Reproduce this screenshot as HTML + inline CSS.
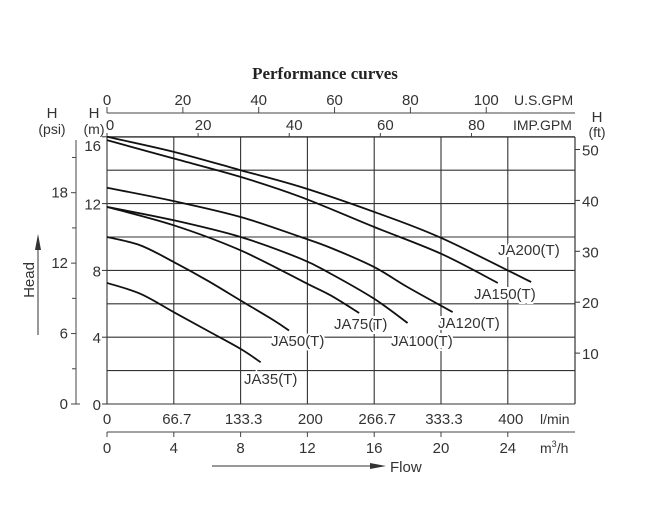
<!DOCTYPE html>
<html><head><meta charset="utf-8"><style>
body{margin:0;background:#fff;}
svg{display:block;font-family:"Liberation Sans",Arial,sans-serif;}
</style></head><body>
<svg id="chart" width="658" height="513" viewBox="0 0 658 513" xmlns="http://www.w3.org/2000/svg">
<text x="325" y="79" text-anchor="middle" font-family="Liberation Serif,serif" font-weight="bold" font-size="17" fill="#222">Performance curves</text>
<g id="grid"></g>
<g id="axes"></g>
<g id="curves"></g>
</svg>
<script>
const xTicksLmin = ["0","66.7","133.3","200","266.7","333.3","400"];
const xTicksM3h = [0,4,8,12,16,20,24];
const yTicksM = [0,4,8,12,16];
const yTicksPsi = [0,6,12,18];
const yTicksFt = [10,20,30,40,50];
const usGpm = [0,20,40,60,80,100];
const impGpm = [0,20,40,60,80];
const seriesNames = ["JA35(T)","JA50(T)","JA75(T)","JA100(T)","JA120(T)","JA150(T)","JA200(T)"];
const ja35 = [[0,7.25],[2,6.6],[4,5.5],[6,4.4],[8,3.3],[9.2,2.5]];
const ja50 = [[0,10],[2,9.5],[4,8.5],[6,7.4],[8,6.2],[10,5],[10.9,4.4]];
const ja75 = [[0,11.8],[4,10.7],[8,9.2],[12,7.2],[13.4,6.5],[15.1,5.45]];
const ja100 = [[0,11.8],[4,11.0],[8,10.0],[11.6,8.7],[13.4,7.8],[16,6.3],[18,4.85]];
const ja120 = [[0,12.95],[4,12.15],[8,11.2],[11.6,10],[13.4,9.35],[16,8.2],[18,7.0],[20.7,5.5]];
const ja150 = [[0,15.8],[4,14.7],[8,13.6],[11.6,12.4],[16,10.6],[20,9.0],[23.4,7.25]];
const ja200 = [[0,16],[4,15.1],[8,14.0],[11.6,13.0],[16,11.5],[20,9.95],[25.4,7.3]];
const labelPos = [[244,384],[271,346],[334,329],[391,346],[438,328],[474,299],[498,255]];

const X0=107,PX=16.7,Y0=404,PY=16.7,XR=575,YT=137;
const sx=v=>X0+v*PX, sy=v=>Y0-v*PY;
const NS="http://www.w3.org/2000/svg";
function mk(parent,tag,attrs){const e=document.createElementNS(NS,tag);for(const k in attrs)e.setAttribute(k,attrs[k]);parent.appendChild(e);return e;}
const grid=document.getElementById('grid'),axes=document.getElementById('axes'),curves=document.getElementById('curves');
// grid
for(let m=0;m<=16;m+=2){const l=mk(grid,'line',{x1:X0,x2:XR,y1:sy(m),y2:sy(m),stroke:'#333','stroke-width':1.1});

}
for(let q=0;q<=24;q+=4){const l=mk(grid,'line',{x1:sx(q),x2:sx(q),y1:YT,y2:Y0,stroke:'#333','stroke-width':1.1});

}
const rb=mk(grid,'line',{x1:XR,x2:XR,y1:YT,y2:Y0,stroke:'#333','stroke-width':1.2});


function txt(x,y,s,anchor,size,name){const t=mk(axes,'text',{x:x,y:y,'text-anchor':anchor||'middle','font-size':size||14,fill:'#333'});t.textContent=s;

return t;}
// m axis
yTicksM.forEach(v=>txt(101,sy(v)+6+(v==16?8:0),String(v),'end',15,'y-tick-m'));
yTicksM.forEach(v=>mk(axes,'line',{x1:102,x2:X0,y1:sy(v),y2:sy(v),stroke:'#333'}));
txt(94,118,'H','middle',15,'h-m-label');txt(94,134,'(m)','middle',14,'m-unit');
// psi axis
mk(axes,'path',{d:'M76 140 V404 H80',fill:'none',stroke:'#444','stroke-width':1});
yTicksPsi.forEach(v=>{const y=Y0-v*(267/16/1.4215*1);mk(axes,'line',{x1:71,x2:76,y1:y,y2:y,stroke:'#444'});txt(68,y+5,String(v),'end',15,'y-tick-psi');});
for(let v=3;v<=21;v+=6){const y=Y0-v*(267/16/1.4215);mk(axes,'line',{x1:72,x2:76,y1:y,y2:y,stroke:'#444'});}
txt(52,118,'H','middle',15,'h-psi-label');txt(52,134,'(psi)','middle',14,'psi-unit');
// ft axis
yTicksFt.forEach(v=>{const y=Y0-v*0.3048*PY;mk(axes,'line',{x1:XR,x2:XR+5,y1:y,y2:y,stroke:'#333'});txt(582,y+6,String(v),'start',15,'y-tick-ft');});
txt(597,122,'H','middle',15,'h-ft-label');txt(597,137,'(ft)','middle',14,'ft-unit');
// top axes
mk(axes,'line',{x1:X0,x2:XR,y1:113,y2:113,stroke:'#444'});
usGpm.forEach(v=>{const x=sx(v*0.2271);mk(axes,'line',{x1:x,x2:x,y1:107,y2:113,stroke:'#444'});txt(x,105,String(v),'middle',15,'us-gpm-tick');});
txt(514,105,'U.S.GPM','start',14,'us-gpm-unit');
impGpm.forEach(v=>{const x=sx(v*0.2728);mk(axes,'line',{x1:x,x2:x,y1:YT-4,y2:YT,stroke:'#444'});txt(x+(v==0?3:5),130,String(v),'middle',15,'imp-gpm-tick');});
txt(513,130,'IMP.GPM','start',14,'imp-gpm-unit');
mk(axes,'line',{x1:X0,x2:XR,y1:YT,y2:YT,stroke:'#333','stroke-width':1.2});
// bottom axes
xTicksLmin.forEach((s,i)=>txt(sx(i*4)+(i==0?0:3),424,s,'middle',15,'x-tick-lmin'));
txt(540,424,'l/min','start',14,'lmin-unit');
mk(axes,'line',{x1:X0,x2:XR,y1:432,y2:432,stroke:'#444'});
xTicksM3h.forEach(v=>{mk(axes,'line',{x1:sx(v),x2:sx(v),y1:432,y2:437,stroke:'#444'});txt(sx(v),453,String(v),'middle',15,'x-tick-m3h');});
const mu=txt(540,453,'m','start',14,'m3h-unit');const sup=mk(mu,'tspan',{'font-size':9,dy:-6});sup.textContent='3';const rest=mk(mu,'tspan',{dy:6});rest.textContent='/h';
mk(axes,'line',{x1:212,x2:372,y1:466,y2:466,stroke:'#333'});
mk(axes,'path',{d:'M370 463 L386 466 L370 469 Z',fill:'#333'});
txt(390,472,'Flow','start',15,'x-axis-title');
// head
const hd=txt(0,0,'Head','middle',15,'y-axis-title');hd.setAttribute('transform','translate(34,280) rotate(-90)');
mk(axes,'line',{x1:38,x2:38,y1:335,y2:245,stroke:'#333'});
mk(axes,'path',{d:'M35 250 L38 234 L41 250 Z',fill:'#333'});
// curves
function smooth(pts){const p=pts.map(d=>[sx(d[0]),sy(d[1])]);let d='M'+p[0][0]+' '+p[0][1];
for(let i=0;i<p.length-1;i++){const a=p[i-1]||p[i],b=p[i],c=p[i+1],e=p[i+2]||c;
d+=' C'+(b[0]+(c[0]-a[0])/6)+' '+(b[1]+(c[1]-a[1])/6)+' '+(c[0]-(e[0]-b[0])/6)+' '+(c[1]-(e[1]-b[1])/6)+' '+c[0]+' '+c[1];}return d;}
[ja35,ja50,ja75,ja100,ja120,ja150,ja200].forEach((s,i)=>{
const p=mk(curves,'path',{d:smooth(s),fill:'none',stroke:'#111','stroke-width':1.8});


const t=mk(curves,'text',{x:labelPos[i][0],y:labelPos[i][1],'font-size':15,fill:'#333',stroke:'#fff','stroke-width':4,'paint-order':'stroke'});
t.textContent=seriesNames[i];


});
</script>
</body></html>
